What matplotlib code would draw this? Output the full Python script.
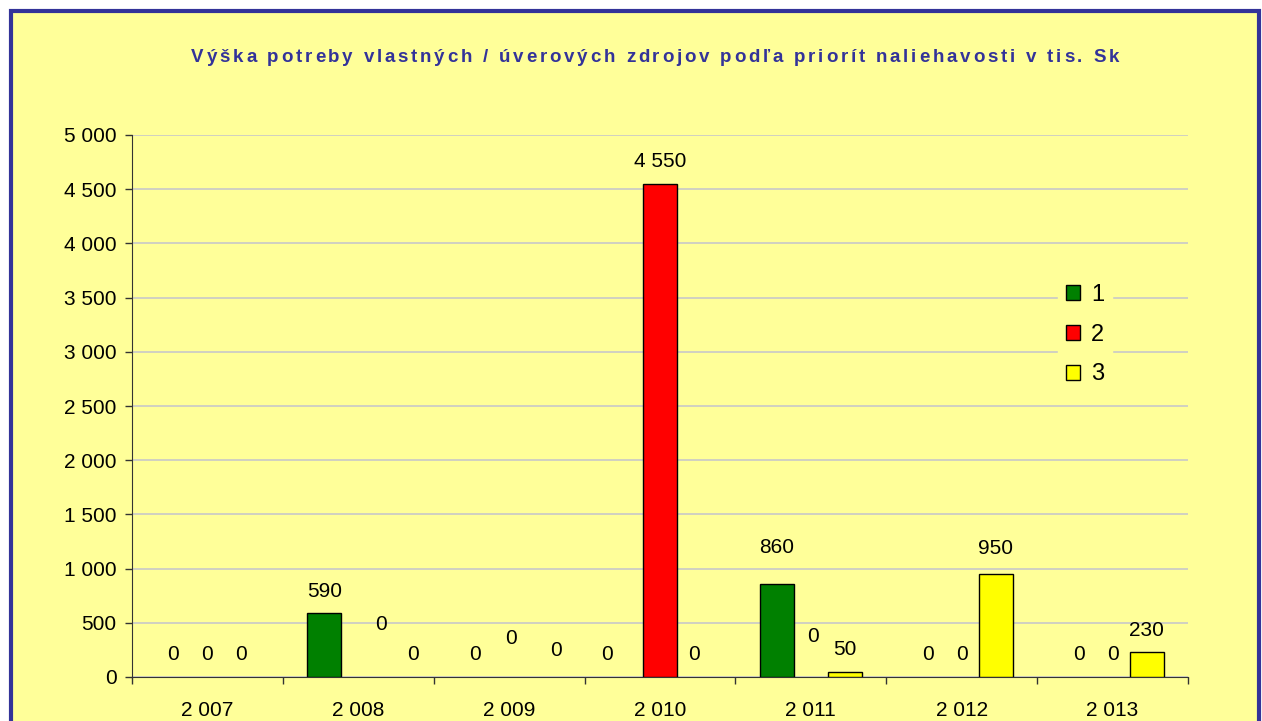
import matplotlib
matplotlib.use("Agg")
import matplotlib.pyplot as plt
from matplotlib.patches import Rectangle, Patch
from matplotlib.ticker import FuncFormatter

plt.rcParams["font.family"] = ["Liberation Sans", "DejaVu Sans"]

# data
years = [2007, 2008, 2009, 2010, 2011, 2012, 2013]
series_names = ["1", "2", "3"]
prio1 = [0, 590, 0, 0, 860, 0, 0]
prio2 = [0, 0, 0, 4550, 0, 0, 0]
prio3 = [0, 0, 0, 0, 50, 950, 230]
title = "Výška potreby vlastných / úverových zdrojov podľa priorít naliehavosti v tis. Sk"

colors = ["#008000", "#FF0000", "#FFFF00"]
bg = "#FFFF99"
blue = "#333399"
fsz = 15

# manual label nudges (pixels) the original chart had
label_nudge = {(1, 1): (23, 31), (1, 2): (21, 0), (2, 1): (2, 16), (2, 2): (13, 5),
               (3, 0): (-19, 0), (4, 0): (0, 14), (4, 1): (2, 18), (5, 2): (0, 4)}


def sp(v):
    return f"{int(v):,}".replace(",", " ")


fig = plt.figure(figsize=(12.62, 7.21), dpi=100)
fig.patch.set_facecolor("white")
# chart area with blue border (bottom edge off the picture)
fig.patches.append(Rectangle((11 / 1262, -0.05), 1248 / 1262, (721 - 11) / 721 + 0.05,
                             transform=fig.transFigure, facecolor=bg, edgecolor=blue,
                             linewidth=3, zorder=-10))

ax = fig.add_axes([132 / 1262, 44 / 721, 1056 / 1262, 542 / 721])
ax.set_facecolor(bg)

w = 0.2254
values = [prio1, prio2, prio3]
for k, vals in enumerate(values):
    xs = [i + (k - 1) * w for i in range(len(years))]
    bars = ax.bar(xs, vals, width=w, color=colors[k], edgecolor="black", linewidth=1,
                  zorder=3, label=series_names[k])
    for b, v in zip(bars, vals):
        if v == 0:
            b.set_visible(False)
    for i, (x, v) in enumerate(zip(xs, vals)):
        dx, dy = label_nudge.get((i, k), (0, 0))
        ax.annotate(sp(v), (x, v), xytext=(dx, 22 + dy), textcoords="offset pixels",
                    ha="center", va="center", fontsize=fsz, zorder=4)

ax.set_xlim(-0.5, len(years) - 0.5)
ax.set_ylim(0, 5000)
ax.set_yticks(range(0, 5001, 500))
ax.yaxis.set_major_formatter(FuncFormatter(lambda v, p: sp(v)))
ax.set_xticks(range(len(years)))
ax.set_xticklabels([sp(y) for y in years])
ax.set_xticks([i - 0.5 for i in range(len(years) + 1)], minor=True)
ax.tick_params(axis="x", which="major", length=0, pad=17, labelsize=fsz)
ax.tick_params(axis="x", which="minor", length=5, width=1, direction="out", color="#333333")
ax.tick_params(axis="y", length=5, width=1, direction="out", color="#333333", pad=6,
               labelsize=fsz)
ax.grid(axis="y", color="#C8C8C8", linewidth=1.2, zorder=0)
ax.set_axisbelow(True)
for s in ["top", "right"]:
    ax.spines[s].set_visible(False)
ax.spines["left"].set_color("#333333")
ax.spines["bottom"].set_color("#333333")

handles = [Patch(facecolor=c, edgecolor="black", linewidth=1) for c in colors]
leg = ax.legend(handles, series_names, loc="upper left", bbox_to_anchor=(0.8656, 0.762),
                frameon=True, fontsize=17, handlelength=0.6, handleheight=0.6,
                handletextpad=0.45, labelspacing=0.75, borderpad=0.35)
leg.get_frame().set_facecolor(bg)
leg.get_frame().set_edgecolor(bg)
leg.get_frame().set_alpha(1)
leg.set_zorder(5)

# title with letter spacing
fig.canvas.draw()
r = fig.canvas.get_renderer()
track = 2.8
fs = 13.5
parts = []
widths = []
for ch in title:
    t = fig.text(0, 0, ch, fontsize=fs, fontweight="bold", color=blue, va="center")
    if ch == " ":
        a = fig.text(0, 0, "a a", fontsize=fs, fontweight="bold")
        b = fig.text(0, 0, "aa", fontsize=fs, fontweight="bold")
        widths.append(a.get_window_extent(r).width - b.get_window_extent(r).width)
        a.remove()
        b.remove()
    else:
        widths.append(t.get_window_extent(r).width)
    parts.append(t)
total = sum(widths) + track * (len(widths) - 1)
x = 655 - total / 2
for t, ww in zip(parts, widths):
    t.set_position((x / 1262, 1 - 57 / 721))
    x += ww + track

fig.savefig("out.png", dpi=100, facecolor="white")
